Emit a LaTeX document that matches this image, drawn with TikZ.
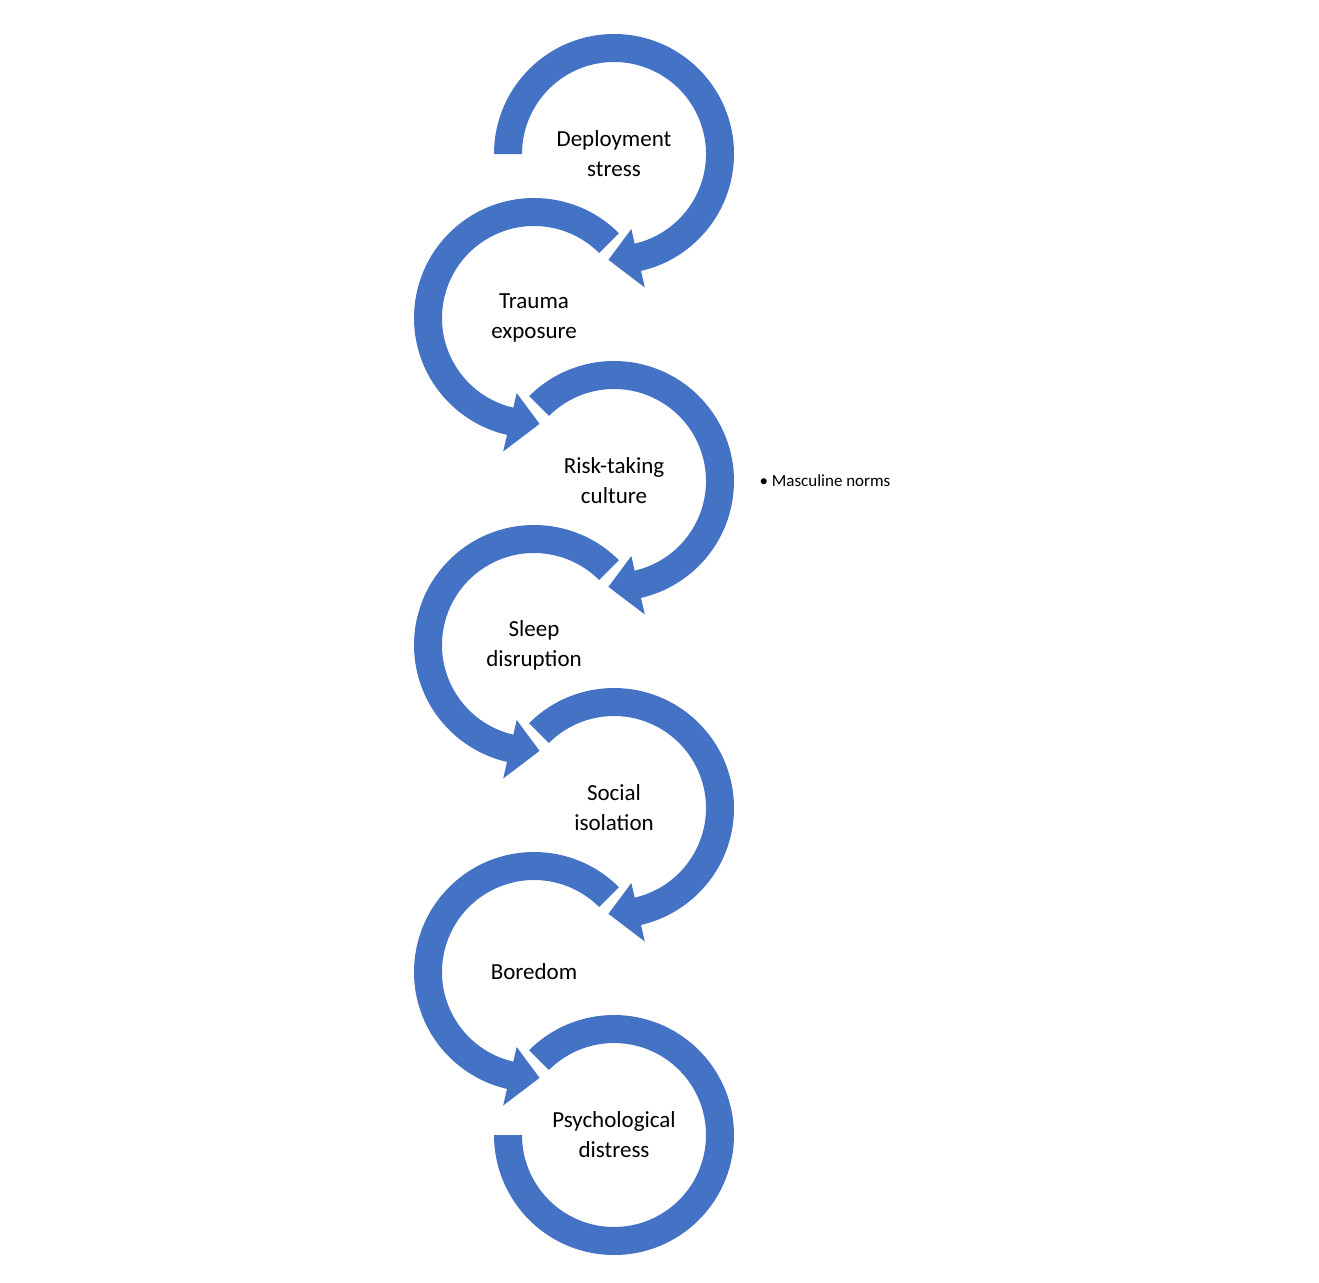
\documentclass[tikz,border=0pt]{standalone}
\usepackage{fontspec}
\setmainfont{Carlito}
\definecolor{ring}{HTML}{4472C4}
\begin{document}
\begin{tikzpicture}[x=1pt,y=1pt,
  lbl/.style={align=center,font=\fontsize{23}{30}\selectfont},
  ringfill/.style={fill=ring,draw=none}]
\useasboundingbox (0,0) rectangle (1319,-1282);
% right column, clockwise, arrowhead at bottom
\newcommand{\rcw}[3]{% x y startangle
  \fill[ringfill,shift={(#1pt,-#2pt)}] (#3:120pt) arc[start angle=#3,end angle=-77,radius=120pt]
   -- (-77:137pt) -- (-93:106pt) -- (-77:77pt) -- (-77:92pt)
   arc[start angle=-77,end angle=#3,radius=92pt] -- cycle;}
\newcommand{\lccw}[2]{%
  \fill[ringfill,shift={(#1pt,-#2pt)}] (45:120pt) arc[start angle=45,end angle=257,radius=120pt]
   -- (257:137pt) -- (273:106pt) -- (257:77pt) -- (257:92pt)
   arc[start angle=257,end angle=45,radius=92pt] -- cycle;}
\rcw{614}{154}{180}
\lccw{534}{318}
\rcw{614}{481}{135}
\lccw{534}{645}
\rcw{614}{808}{135}
\lccw{534}{972}
\fill[ringfill,shift={(614pt,-1135pt)}] (135:120pt) arc[start angle=135,end angle=-180,radius=120pt]
  -- (180:92pt) arc[start angle=-180,end angle=135,radius=92pt] -- cycle;
\node[lbl] (n1) at (614,-154) {Deployment\\stress};
\node[lbl] (n2) at (534,-318) {Trauma\\exposure};
\node[lbl] (n3) at (614,-481) {Risk-taking\\culture};
\node[lbl] (n4) at (534,-645) {Sleep\\disruption};
\node[lbl] (n5) at (614,-808) {Social\\isolation};
\node[lbl] (n6) at (534,-972) {Boredom};
\node[lbl] (n7) at (614,-1135) {Psychological\\distress};
\node[anchor=west,font=\fontsize{17}{20}\selectfont] (m) at (756,-481) {\textbullet\ Masculine norms};
\end{tikzpicture}
\end{document}
